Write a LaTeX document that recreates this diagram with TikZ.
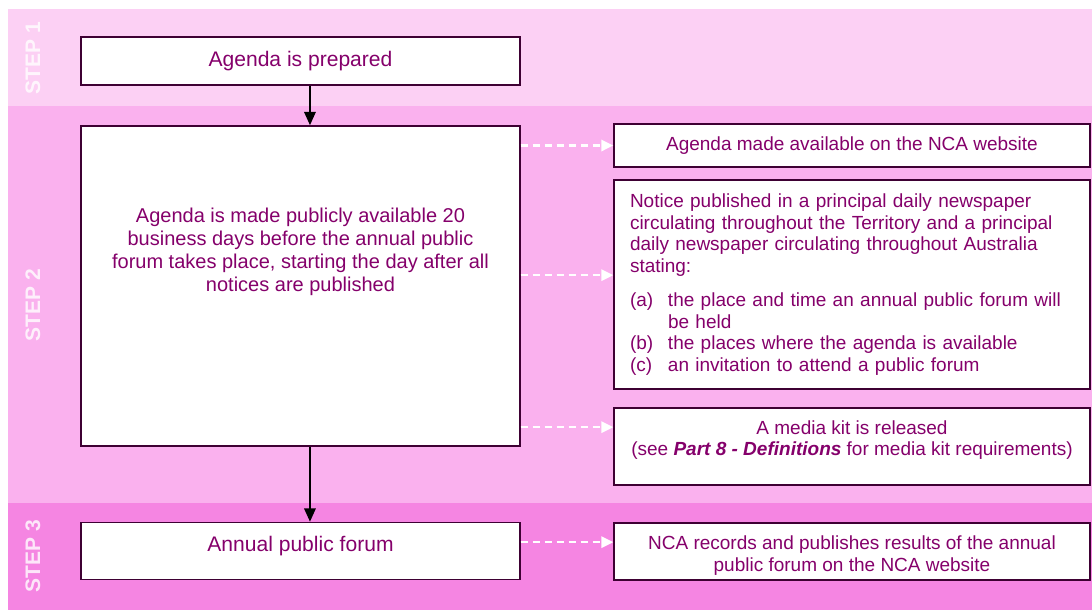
\documentclass[tikz,border=0pt]{standalone}
\usepackage{fontspec}
\setmainfont{Liberation Sans}
\usetikzlibrary{arrows.meta,positioning,calc}
\definecolor{bandone}{HTML}{FCD0F4}
\definecolor{bandtwo}{HTML}{FAB1EE}
\definecolor{bandthree}{HTML}{F585E2}
\definecolor{ink}{HTML}{85006B}
\definecolor{edge}{HTML}{3E0033}

\begin{document}
\begin{tikzpicture}[x=0.75pt,y=-0.75pt,
  leftbox/.style={draw=edge,line width=1.1pt,fill=white,text=ink,minimum width=329.25pt,
    align=center,inner sep=0pt,font=\fontsize{15}{17.25}\selectfont},
  rightbox/.style={draw=edge,line width=1.1pt,fill=white,text=ink,minimum width=357pt,
    align=center,inner sep=0pt,font=\fontsize{14.25}{16.3}\selectfont},
  steplabel/.style={rotate=90,text=white,text opacity=0.8,font=\fontsize{15.75}{18}\selectfont\bfseries},
  flow/.style={black,line width=1.6pt,-{Triangle[length=10pt,width=8.5pt]}},
  feed/.style={white,line width=1.7pt,dash pattern=on 5.5pt off 3.5pt,-{Triangle[length=9pt,width=8.5pt]}}]
  \useasboundingbox (0,0) rectangle (1092,611);

  % Step bands
  \fill[bandone] (8,9) rectangle (1092,106);
  \fill[bandtwo] (8,106) rectangle (1092,503);
  \fill[bandthree] (8,503) rectangle (1092,610);
  \node[steplabel] (s1) at (33,58) {STEP 1};
  \node[steplabel] (s2) at (33,305) {STEP 2};
  \node[steplabel] (s3) at (33,556) {STEP 3};

  % Main flow
  \node[leftbox,minimum height=36pt,font=\fontsize{15.8}{18}\selectfont] (prep) at (300.5,61)
    {Agenda is prepared};
  \node[leftbox,minimum height=240pt,text height=63pt,text depth=55pt] (agenda) at (300.5,286)
    {Agenda is made publicly available 20\\business days before the annual public\\
     forum takes place, starting the day after all\\notices are published};
  \node[leftbox,minimum height=42.75pt,text height=11.5pt,text depth=11pt,
    font=\fontsize{15.8}{18}\selectfont] (forum) at (300.5,551) {Annual public forum};

  % Outcomes
  \node[rightbox,minimum height=32.25pt] (web) at (852,145.5)
    {Agenda made available on the NCA website};
  \node[rightbox,minimum height=156.75pt,text width=333pt,align=left,inner xsep=12pt] (notice) at (852,284.5)
    {Notice published in a principal daily newspaper\\
     circulating throughout the Territory and a principal\\
     daily newspaper circulating throughout Australia\\
     stating:\\[9pt]
     \makebox[28.5pt][l]{(a)}the place and time an annual public forum will\\
     \hspace*{28.5pt}be held\\
     \makebox[28.5pt][l]{(b)}the places where the agenda is available\\
     \makebox[28.5pt][l]{(c)}an invitation to attend a public forum};
  \node[rightbox,minimum height=57.75pt,text height=27pt,text depth=13pt] (media) at (852,446.5)
    {A media kit is released\\(see \textbf{\textit{Part 8 - Definitions}} for media kit requirements)};
  \node[rightbox,minimum height=42.75pt,text height=33pt,text depth=3.1pt] (results) at (852,551.5)
    {NCA records and publishes results of the annual\\public forum on the NCA website};

  % Arrow ends
  \coordinate (noticein) at ([yshift=7pt]notice.west);
  \coordinate (mediain) at ([yshift=14.5pt]media.west);
  \coordinate (resultsin) at ([yshift=7pt]results.west);

  % Arrows
  \draw[flow] ([xshift=7.1pt]prep.south) -- ([xshift=7.1pt]agenda.north);
  \draw[flow] ([xshift=7.1pt]agenda.south) -- ([xshift=7.1pt]forum.north);
  \draw[feed] (agenda.east |- web.west) -- (web.west);
  \draw[feed] (agenda.east |- noticein) -- (noticein);
  \draw[feed] (agenda.east |- mediain) -- (mediain);
  \draw[feed] (forum.east |- resultsin) -- (resultsin);
\end{tikzpicture}
\end{document}
